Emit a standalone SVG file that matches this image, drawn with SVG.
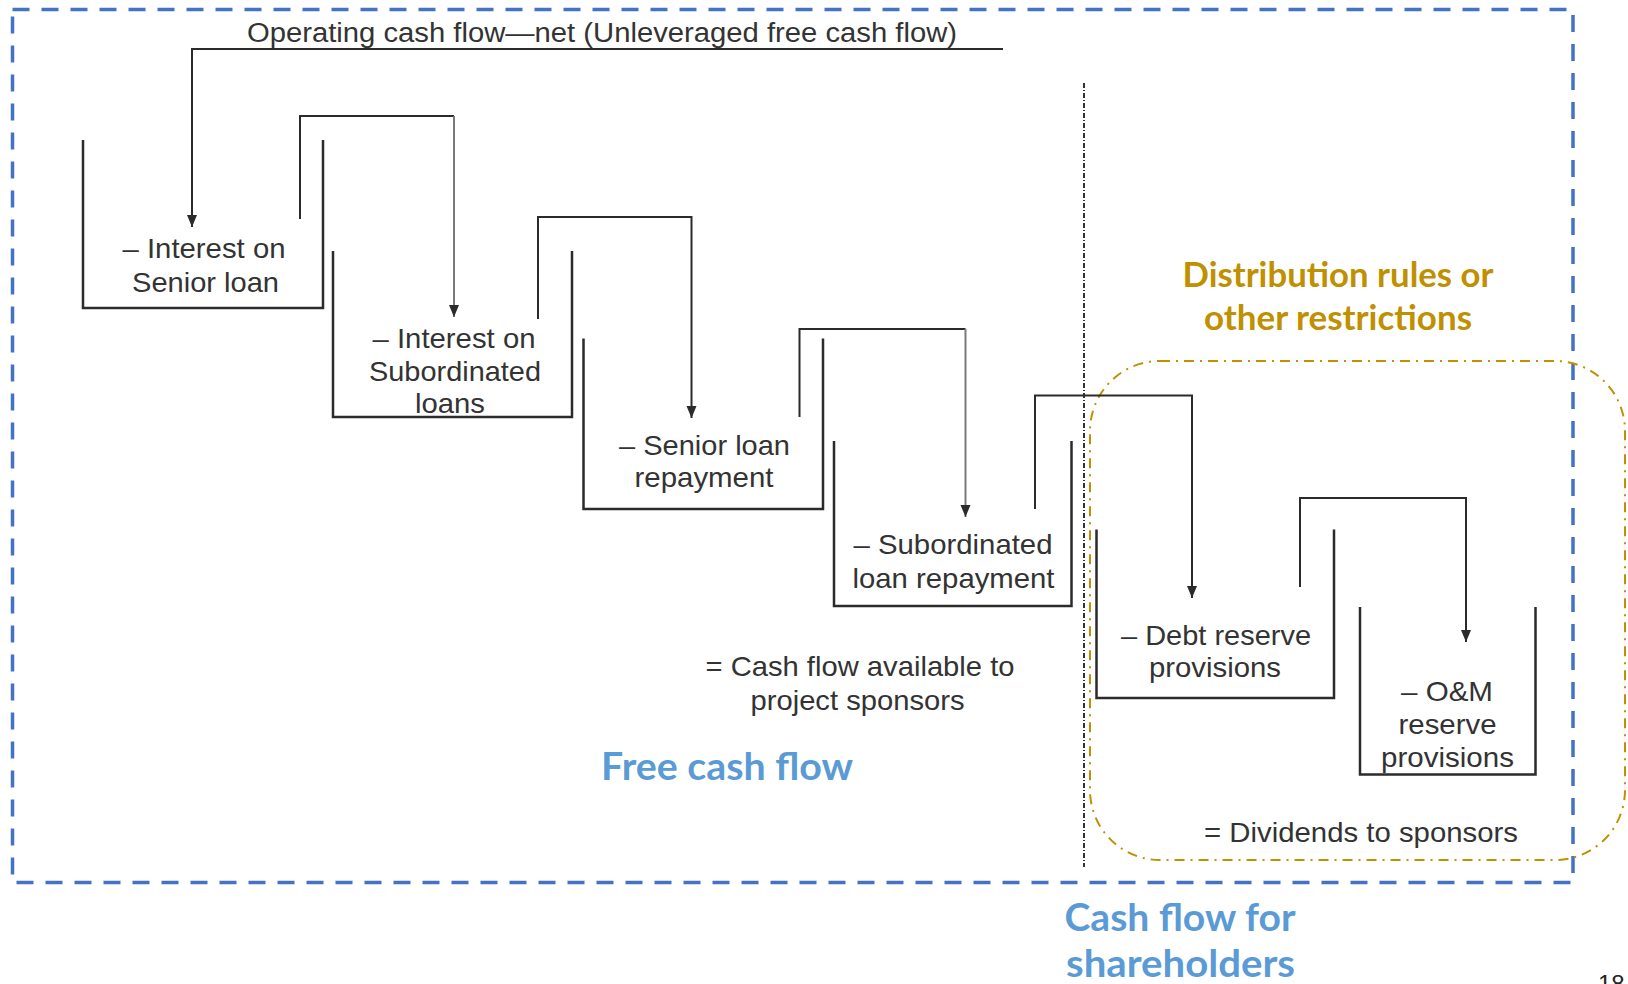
<svg xmlns="http://www.w3.org/2000/svg" width="1628" height="984" viewBox="0 0 1628 984">
<style>
.bg{fill:#ffffff}
.frame{fill:none;stroke:#4472C4;stroke-width:3.5;stroke-dasharray:17 12}
.gold{fill:none;stroke:#BF9000;stroke-width:2;stroke-dasharray:10 6 2 6}
.divider{fill:none;stroke:#333;stroke-width:2;stroke-dasharray:5 2 1 2}
.box{fill:none;stroke:#2b2b2b;stroke-width:2.5}
.conn{fill:none;stroke:#2b2b2b;stroke-width:2}
.conn-gray{fill:none;stroke:#7a7a7a;stroke-width:2}
.t{font-family:"Liberation Sans",Arial,sans-serif;font-size:28px;fill:#333;text-anchor:middle}
.title{font-family:"Liberation Sans",Arial,sans-serif;font-size:27px;fill:#333;text-anchor:middle}
.blue{font-family:Lato,"Open Sans",sans-serif;font-weight:bold;font-size:38px;fill:#5B9BD5;text-anchor:middle}
.goldt{font-family:Lato,"Open Sans",sans-serif;font-weight:bold;font-size:34px;fill:#BF9000;text-anchor:middle}
.pg{font-family:"Liberation Sans",Arial,sans-serif;font-size:24px;fill:#222}
</style>
<defs>
<marker id="arr" markerUnits="userSpaceOnUse" markerWidth="12" markerHeight="12" refX="12" refY="5" orient="auto">
<path d="M0,0 L12,5 L0,10 z" fill="#2b2b2b"/>
</marker>
</defs>
<rect class="bg" x="0" y="0" width="1628" height="984"/>

<g id="frame">
<rect class="frame" x="12.5" y="9.5" width="1560.5" height="873"/>
</g>
<g id="restrictions-area">
<rect class="gold" x="1090" y="361" width="535" height="499" rx="70" ry="70"/>
</g>
<g id="divider">
<line class="divider" x1="1084" y1="83" x2="1084" y2="867"/>
</g>

<g id="title">
<text class="title" x="602" y="42" textLength="710" lengthAdjust="spacingAndGlyphs">Operating cash flow—net (Unleveraged free cash flow)</text>
</g>

<g id="box-interest-senior">
<path class="box" d="M83,140 V308 H323 V140"/>
<text class="t" x="204" y="258" textLength="163" lengthAdjust="spacingAndGlyphs">– Interest on</text>
<text class="t" x="205.5" y="292" textLength="147" lengthAdjust="spacingAndGlyphs">Senior loan</text>
</g>
<g id="box-interest-sub">
<path class="box" d="M333,251 V417 H572 V251"/>
<text class="t" x="454" y="348" textLength="163" lengthAdjust="spacingAndGlyphs">– Interest on</text>
<text class="t" x="455" y="381" textLength="172" lengthAdjust="spacingAndGlyphs">Subordinated</text>
<text class="t" x="450" y="413" textLength="70" lengthAdjust="spacingAndGlyphs">loans</text>
</g>
<g id="box-senior-repay">
<path class="box" d="M583.5,338.5 V509 H823 V338.5"/>
<text class="t" x="704.5" y="455" textLength="171" lengthAdjust="spacingAndGlyphs">– Senior loan</text>
<text class="t" x="704" y="487" textLength="139" lengthAdjust="spacingAndGlyphs">repayment</text>
</g>
<g id="box-sub-repay">
<path class="box" d="M834,441 V606 H1071.5 V441"/>
<text class="t" x="953" y="554" textLength="199" lengthAdjust="spacingAndGlyphs">– Subordinated</text>
<text class="t" x="953.5" y="588" textLength="202" lengthAdjust="spacingAndGlyphs">loan repayment</text>
</g>
<g id="box-debt-reserve">
<path class="box" d="M1096.5,529.5 V698 H1334 V529.5"/>
<text class="t" x="1216" y="645" textLength="190" lengthAdjust="spacingAndGlyphs">– Debt reserve</text>
<text class="t" x="1215" y="677" textLength="132" lengthAdjust="spacingAndGlyphs">provisions</text>
</g>
<g id="box-om-reserve">
<path class="box" d="M1360,607 V774.5 H1535.5 V607"/>
<text class="t" x="1447" y="701" textLength="92" lengthAdjust="spacingAndGlyphs">– O&amp;M</text>
<text class="t" x="1447.5" y="734" textLength="98" lengthAdjust="spacingAndGlyphs">reserve</text>
<text class="t" x="1447.5" y="767" textLength="133" lengthAdjust="spacingAndGlyphs">provisions</text>
</g>

<g id="label-cfads">
<text class="t" x="860" y="676" textLength="309" lengthAdjust="spacingAndGlyphs">= Cash flow available to</text>
<text class="t" x="857.5" y="710" textLength="214" lengthAdjust="spacingAndGlyphs">project sponsors</text>
</g>
<g id="label-dividends">
<text class="t" x="1361" y="842" textLength="314" lengthAdjust="spacingAndGlyphs">= Dividends to sponsors</text>
</g>
<g id="label-fcf">
<text class="blue" x="727" y="780" textLength="252" lengthAdjust="spacingAndGlyphs">Free cash flow</text>
</g>
<g id="label-distribution">
<text class="goldt" x="1338" y="287" textLength="311" lengthAdjust="spacingAndGlyphs">Distribution rules or</text>
<text class="goldt" x="1338" y="330" textLength="268" lengthAdjust="spacingAndGlyphs">other restrictions</text>
</g>
<g id="label-shareholders">
<text class="blue" x="1180" y="931" textLength="231" lengthAdjust="spacingAndGlyphs">Cash flow for</text>
<text class="blue" x="1180.5" y="977" textLength="229" lengthAdjust="spacingAndGlyphs">shareholders</text>
</g>
<g id="page-number">
<text class="pg" x="1598" y="992">18</text>
</g>

<g id="connectors">
<path class="conn" d="M1003,49 H192 V227" marker-end="url(#arr)"/>
<path class="conn" d="M300,219 V116 H454"/>
<path class="conn-gray" d="M454,116 V317" marker-end="url(#arr)"/>
<path class="conn" d="M538,319 V217 H691.5 V418" marker-end="url(#arr)"/>
<path class="conn" d="M799.5,417 V329 H965.5"/>
<path class="conn-gray" d="M965.5,329 V517" marker-end="url(#arr)"/>
<path class="conn" d="M1035,509 V395.5 H1192 V598" marker-end="url(#arr)"/>
<path class="conn" d="M1300,587 V498 H1466 V642" marker-end="url(#arr)"/>
</g>
</svg>
